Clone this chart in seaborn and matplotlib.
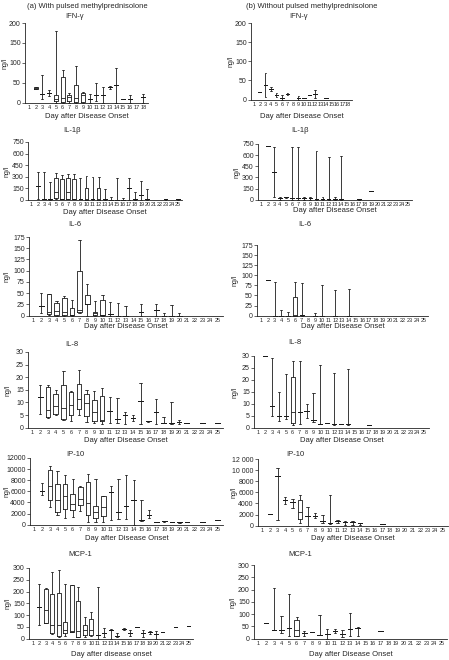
import pandas as pd
import seaborn as sns
import matplotlib.pyplot as plt

# Five-number summaries: (day, min, q1, median, q3, max)
IFN_A = [(2, 33, 35, 37, 38, 40), (3, 10, 22, 22, 22, 70), (4, 17, 25, 25, 25, 32),
         (5, 0, 3, 10, 20, 180), (6, 0, 2, 12, 64, 82), (7, 0, 5, 13, 20, 25),
         (8, 0, 2, 12, 43, 92), (9, 0, 2, 20, 24, 26), (10, 0, 8, 8, 8, 22),
         (11, 3, 20, 20, 20, 50), (12, 0, 20, 20, 20, 38), (13, 35, 40, 40, 40, 42),
         (14, 0, 43, 43, 43, 87), (15, 9, 10, 10, 10, 10), (16, 0, 10, 10, 10, 18),
         (18, 0, 13, 13, 13, 22)]
IFN_B = [(2, 20, 20, 20, 20, 20), (3, 8, 38, 38, 38, 70), (4, 22, 28, 28, 28, 33),
         (5, 8, 12, 12, 12, 17), (6, 0, 5, 5, 5, 13), (7, 12, 15, 15, 15, 17),
         (9, 0, 5, 5, 5, 10), (10, 3, 3, 3, 3, 3), (11, 13, 13, 13, 13, 13),
         (12, 5, 15, 15, 15, 25), (14, 3, 3, 3, 3, 3)]

IL1B_A = [(2, 10, 180, 180, 180, 358), (3, 10, 15, 15, 15, 360), (4, 0, 15, 15, 15, 228),
          (5, 10, 20, 100, 280, 345), (6, 10, 12, 15, 270, 320), (7, 10, 12, 100, 280, 335),
          (8, 10, 12, 15, 270, 330), (9, 10, 12, 15, 15, 280), (10, 0, 2, 5, 150, 305),
          (11, 0, 5, 5, 5, 295), (12, 0, 2, 5, 150, 295), (13, 0, 5, 5, 5, 135),
          (14, 0, 0, 0, 0, 35), (15, 0, 0, 0, 0, 280), (16, 0, 0, 0, 0, 20),
          (17, 0, 150, 150, 150, 280), (18, 0, 5, 5, 5, 105), (19, 0, 60, 60, 60, 245),
          (20, 0, 5, 5, 5, 140), (23, 2, 3, 3, 3, 4), (25, 2, 3, 3, 3, 4)]
IL1B_B = [(2, 720, 720, 720, 720, 720), (3, 40, 375, 375, 375, 710), (4, 0, 20, 20, 20, 35),
          (5, 20, 30, 30, 30, 40), (6, 0, 20, 20, 20, 710), (7, 0, 20, 20, 20, 705),
          (8, 0, 20, 20, 20, 40), (9, 0, 20, 20, 20, 40), (10, 0, 5, 5, 5, 660),
          (11, 0, 15, 15, 15, 35), (12, 0, 5, 5, 5, 580), (13, 0, 5, 5, 5, 30),
          (14, 0, 5, 5, 5, 595), (17, 2, 3, 3, 3, 4), (19, 120, 120, 120, 120, 120)]

IL6_A = [(2, 5, 22, 22, 22, 50), (3, 1, 3, 8, 47, 48), (4, 0, 2, 10, 28, 32),
         (5, 0, 2, 8, 40, 43), (6, 0, 1, 2, 17, 35), (7, 5, 8, 12, 100, 168),
         (8, 0, 26, 26, 46, 70), (9, 0, 2, 5, 8, 32), (10, 0, 1, 2, 35, 45),
         (11, 0, 4, 4, 4, 30), (12, 0, 0, 0, 0, 28), (13, 0, 0, 0, 0, 22),
         (15, 0, 8, 8, 8, 26), (17, 0, 13, 13, 13, 26), (18, 0, 0, 0, 0, 6),
         (19, 0, 0, 0, 0, 23), (20, 0, 0, 0, 0, 6)]
IL6_B = [(2, 88, 88, 88, 88, 88), (3, 0, 0, 0, 0, 84), (4, 0, 0, 0, 0, 14),
         (5, 0, 0, 0, 0, 10), (6, 0, 0, 1, 46, 83), (7, 0, 2, 2, 2, 82),
         (9, 0, 0, 0, 0, 7), (10, 0, 0, 0, 0, 77), (12, 0, 0, 0, 0, 64),
         (14, 0, 0, 0, 0, 66)]

IL8_A = [(2, 5.5, 12, 12, 12, 17), (3, 4, 4.3, 7, 16, 17), (4, 5, 5.5, 8.5, 13.5, 15),
         (5, 3.2, 3.3, 7.8, 17, 22.5), (6, 2.8, 5, 9, 14, 14.5), (7, 5, 7.5, 11.3, 17.3, 22.7),
         (8, 2.3, 4.5, 9.7, 13.5, 15), (9, 1.7, 2.5, 6.2, 11, 14.5), (10, 1.5, 2.7, 3, 12.5, 15.8),
         (11, 1.8, 6.5, 6.5, 6.5, 12), (12, 1.8, 3.5, 3.5, 3.5, 11.7), (13, 1.5, 5, 5, 5, 6),
         (14, 2.5, 3.7, 3.7, 3.7, 5), (15, 1.5, 10.5, 10.5, 10.5, 17.7), (16, 2.3, 2.5, 2.5, 2.5, 2.8),
         (17, 1.5, 6.3, 6.3, 6.3, 11.3), (18, 1.7, 1.9, 1.9, 1.9, 4.2), (19, 1.5, 1.7, 1.7, 1.7, 10),
         (20, 1.5, 2.2, 2.2, 2.2, 3), (21, 1.7, 1.7, 1.7, 1.7, 1.7), (23, 1.7, 1.7, 1.7, 1.7, 1.7),
         (25, 1.7, 1.7, 1.7, 1.7, 1.7)]
IL8_B = [(2, 30, 30, 30, 30, 30), (3, 5, 9, 9, 9, 29.3), (4, 2.7, 4.7, 4.7, 4.7, 15),
         (5, 3.5, 4.7, 4.7, 4.7, 22.5), (6, 1.3, 2, 6.5, 21.2, 27.8), (7, 1.6, 6.5, 6.5, 6.5, 28),
         (8, 4, 7, 7, 7, 10), (9, 2.5, 3, 3, 3, 14.5), (10, 1.5, 1.7, 1.7, 1.7, 26.2),
         (11, 1.8, 1.9, 1.9, 1.9, 2), (12, 1.3, 1.6, 1.6, 1.6, 22.7), (13, 1.5, 1.5, 1.5, 1.5, 1.5),
         (14, 1.3, 1.5, 1.5, 1.5, 24.5), (17, 1.3, 1.3, 1.3, 1.3, 1.3)]

IP10_A = [(2, 5300, 6100, 6100, 6100, 7500), (3, 3200, 4500, 6900, 9900, 10600),
          (4, 1800, 2300, 4500, 7400, 9700), (5, 1200, 2800, 5200, 7300, 9000),
          (6, 1300, 2700, 3700, 5500, 8300), (7, 2400, 3500, 4700, 6800, 6900),
          (8, 500, 1800, 3900, 7700, 9200), (9, 500, 1200, 2200, 3400, 8300),
          (10, 400, 1600, 3200, 5100, 5200), (11, 900, 5800, 5800, 5800, 7000),
          (12, 1000, 2300, 2300, 2300, 8300), (13, 1000, 3300, 3300, 3300, 8900),
          (14, 0, 4400, 4400, 4400, 8100), (15, 700, 800, 800, 800, 4500),
          (16, 1200, 1700, 1700, 1700, 2700), (17, 500, 500, 500, 500, 500),
          (18, 500, 600, 600, 600, 700), (19, 500, 500, 500, 500, 500),
          (20, 350, 400, 400, 400, 450), (21, 500, 500, 500, 500, 500),
          (23, 500, 500, 500, 500, 500), (25, 800, 800, 800, 800, 800)]
IP10_B = [(2, 2100, 2100, 2100, 2100, 2100), (3, 1100, 9000, 9000, 9000, 10400),
          (4, 3900, 4600, 4600, 4600, 5200), (5, 3200, 4300, 4300, 4300, 4800),
          (6, 400, 1200, 2400, 4700, 5600), (7, 0, 1700, 1700, 1700, 3300),
          (8, 1300, 1800, 1800, 1800, 2300), (9, 400, 900, 900, 900, 2000),
          (10, 300, 400, 400, 400, 5500), (11, 500, 800, 800, 800, 1100),
          (12, 200, 600, 600, 600, 900), (13, 200, 600, 600, 600, 900),
          (14, 100, 400, 400, 400, 500), (17, 300, 300, 300, 300, 300)]

MCP1_A = [(2, 60, 135, 135, 135, 230), (3, 65, 67, 120, 210, 215), (4, 20, 25, 60, 190, 283),
          (5, 8, 10, 60, 195, 290), (6, 10, 25, 37, 70, 230), (7, 30, 30, 32, 227, 228),
          (8, 5, 8, 32, 160, 220), (9, 8, 15, 35, 60, 93), (10, 10, 15, 35, 85, 113),
          (11, 0, 15, 15, 15, 220), (12, 8, 25, 25, 25, 45), (13, 0, 35, 35, 35, 40),
          (14, 5, 12, 12, 12, 25), (15, 38, 42, 42, 42, 47), (16, 10, 22, 22, 22, 35),
          (17, 50, 50, 50, 50, 50), (18, 8, 22, 22, 22, 35), (19, 20, 28, 28, 28, 33),
          (20, 0, 18, 18, 18, 33), (21, 28, 28, 28, 28, 28), (23, 50, 50, 50, 50, 50),
          (25, 55, 55, 55, 55, 55)]
MCP1_B = [(2, 62, 62, 62, 62, 62), (3, 35, 35, 35, 35, 207), (4, 22, 35, 35, 35, 92),
          (5, 10, 45, 45, 45, 180), (6, 10, 12, 37, 75, 88), (7, 12, 22, 22, 22, 33),
          (8, 25, 25, 25, 25, 25), (9, 15, 15, 15, 15, 95), (10, 0, 17, 17, 17, 40),
          (11, 22, 30, 30, 30, 38), (12, 8, 20, 20, 20, 35), (13, 10, 40, 40, 40, 105),
          (14, 10, 45, 45, 45, 48), (17, 30, 30, 30, 30, 30)]

W, H = 449, 660
sns.set_style("white")
plt.rcParams["font.family"] = ["Liberation Sans", "DejaVu Sans"]
plt.rcParams["font.size"] = 5

fig = plt.figure(figsize=(W / 100, H / 100), dpi=100)


def to_long(rows):
    recs = []
    for day, *vals in rows:
        for v in vals:
            recs.append({"day": day, "value": v})
    return pd.DataFrame(recs)


def panel(rows, n_days, box, yticks, ylabels, title, tx, ty,
          xlabel="Day after Disease Onset", xl_y=None, yl_x=5):
    x0, x1, ytop, ybot = box
    ax = fig.add_axes([x0 / W, 1 - ybot / H, (x1 - x0) / W, (ybot - ytop) / H])
    sns.boxplot(data=to_long(rows), x="day", y="value", order=list(range(1, n_days + 1)),
                whis=(0, 100), width=0.6, fill=False, color="#1a1a1a",
                linewidth=0.6, showfliers=False, ax=ax)
    top = yticks[-1]
    ax.set_ylim(-top * 0.005, top)
    ax.set_xlim(-0.6, n_days - 0.3)
    ax.set_yticks(yticks)
    ax.set_yticklabels(ylabels, fontsize=5)
    ax.set_xticks(range(n_days))
    ax.set_xticklabels([str(d) for d in range(1, n_days + 1)], fontsize=4)
    ax.tick_params(axis="y", length=2, width=0.5, pad=1, left=True)
    ax.tick_params(axis="x", length=0, pad=1.5)
    ax.set_xlabel("")
    ax.set_ylabel("")
    for s in ["top", "right"]:
        ax.spines[s].set_visible(False)
    for s in ["left", "bottom"]:
        ax.spines[s].set_linewidth(0.6)
        ax.spines[s].set_color("#222222")
    ax.spines["left"].set_bounds(0, top)
    for a in ax.patches + ax.lines:
        a.set_clip_on(False)
    fig.text(tx / W, 1 - ty / H, title, ha="center", va="center", fontsize=5.5)
    fig.text((x0 + x1) / 2 / W, 1 - xl_y / H, xlabel, ha="center", va="center", fontsize=5.5)
    fig.text(yl_x / W, 1 - (ytop + ybot) / 2 / H, "ng/l", rotation=90,
             ha="center", va="center", fontsize=5)
    return ax


t200 = [0, 50, 100, 150, 200]
t750 = [0, 150, 300, 450, 600, 750]
t175 = [0, 25, 50, 75, 100, 125, 150, 175]
t30 = [0, 5, 10, 15, 20, 25, 30]
t12k = [0, 2000, 4000, 6000, 8000, 10000, 12000]
t300 = [0, 50, 100, 150, 200, 250, 300]

# left column
panel(IFN_A, 18, (25, 148, 23, 103), t200, t200, "IFN-γ", 75, 17, xl_y=117, yl_x=5)
panel(IL1B_A, 25, (28, 182, 142, 200), t750, t750, "IL-1β", 72, 130, xl_y=212, yl_x=7)
panel(IL6_A, 25, (29, 223, 237, 316), t175, t175, "IL-6", 75, 225, xl_y=327, yl_x=7)
panel(IL8_A, 25, (28, 223, 352, 428), t30, t30, "IL-8", 72, 344, xl_y=440, yl_x=8)
panel(IP10_A, 25, (30, 223, 458, 525), t12k, t12k, "IP-10", 75, 454, xl_y=538, yl_x=7)
panel(MCP1_A, 25, (29, 193, 568, 639), t300, t300, "MCP-1", 80, 555,
      xlabel="Day after disease onset", xl_y=654, yl_x=8)

# right column
panel(IFN_B, 18, (251, 352, 23, 100), t200, t200, "IFN-γ", 299, 17, xl_y=116, yl_x=231)
panel(IL1B_B, 25, (258, 412, 144, 200), t750, t750, "IL-1β", 300, 130, xl_y=211, yl_x=237)
panel(IL6_B, 25, (257, 428, 245, 316), t175, t175, "IL-6", 305, 225, xl_y=327, yl_x=235)
panel(IL8_B, 25, (254, 429, 356, 428), t30, t30, "IL-8", 295, 343, xl_y=440, yl_x=235)
panel(IP10_B, 25, (258, 448, 459, 526), t12k,
      ["0", "2000", "4000", "6000", "8000", "10 000", "12 000"],
      "IP-10", 295, 454, xl_y=538, yl_x=234)
panel(MCP1_B, 25, (254, 447, 565, 639), t300, t300, "MCP-1", 300, 555, xl_y=655, yl_x=233)

fig.text(87 / W, 1 - 6 / H, "(a) With pulsed methylprednisolone", ha="center", va="center", fontsize=5.5)
fig.text(312 / W, 1 - 6 / H, "(b) Without pulsed methylprednisolone", ha="center", va="center", fontsize=5.5)

fig.savefig("out.png", dpi=100)
